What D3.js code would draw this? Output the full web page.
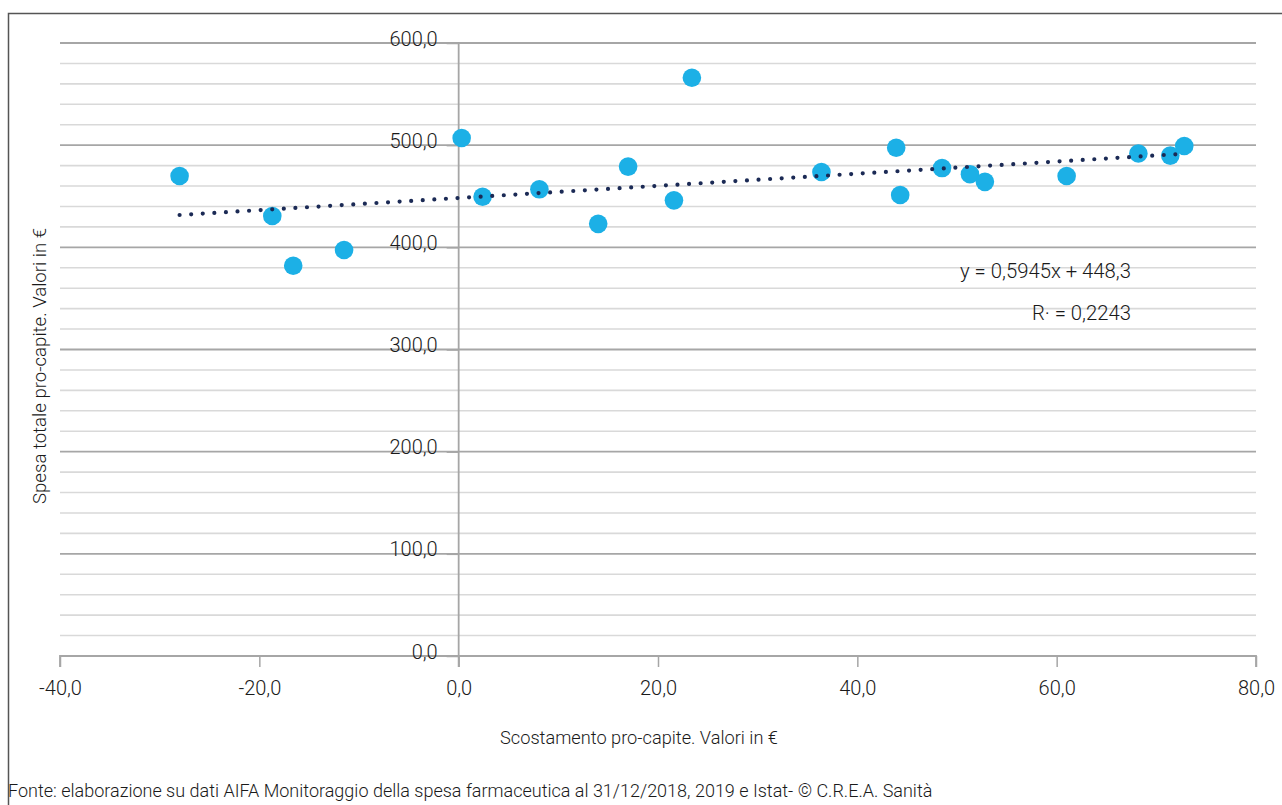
<!DOCTYPE html>
<html><head><meta charset="utf-8">
<script src="https://cdn.jsdelivr.net/npm/d3@7"></script>
<style>
html,body{margin:0;padding:0;background:#fff;}
svg{display:block;}
text{font-family:"Roboto","Noto Sans",sans-serif;font-weight:300;fill:#1a1a1a;}
</style></head><body>
<svg id="c" width="1282" height="805"></svg>
<script>
const xValues = [-28.0,-18.7,-16.6,-11.5,0.3,2.4,8.1,14.0,17.0,21.6,23.4,36.4,43.9,44.3,48.5,51.3,52.8,61.0,68.2,71.4,72.8];
const yValues = [469.8,430.7,382.0,397.4,507.0,449.5,456.8,423.0,479.0,446.0,566.0,473.7,497.5,451.2,477.6,471.6,464.1,469.8,491.8,489.8,499.2];
const xTicks = [-40,-20,0,20,40,60,80];
const yTicksMajor = [0,100,200,300,400,500,600];
const yTicksMinor = [20,40,60,80,120,140,160,180,220,240,260,280,320,340,360,380,420,440,460,480,520,540,560,580];
const trendSlope = 0.5945, trendIntercept = 448.3;
const eqLabel = "y = 0,5945x + 448,3";
const r2Label = "R\u00B7 = 0,2243";
const xTitle = "Scostamento pro-capite. Valori in \u20AC";
const yTitle = "Spesa totale pro-capite. Valori in \u20AC";
const source = "Fonte: elaborazione su dati AIFA Monitoraggio della spesa farmaceutica al 31/12/2018, 2019 e Istat- \u00A9 C.R.E.A. Sanit\u00E0";

const fmt = v => d3.format(".1f")(v).replace(".", ",").replace("\u2212","-");
const svg = d3.select("#c");
const x = d3.scaleLinear().domain([-40,80]).range([60,1256]);
const y = d3.scaleLinear().domain([0,600]).range([656,43]);

// frame
svg.append("path").attr("d","M8.5,805 L8.5,13.5 L1282,13.5").attr("fill","none").attr("stroke","#555").attr("stroke-width",1.5);

// minor gridlines
svg.append("g").selectAll("line").data(yTicksMinor).join("line")
  .attr("x1",x(-40)).attr("x2",x(80)).attr("y1",d=>y(d)).attr("y2",d=>y(d))
  .attr("stroke","#d9d9d9").attr("stroke-width",1.6);
// major gridlines
svg.append("g").selectAll("line").data(yTicksMajor.filter(d=>d>0)).join("line")
  .attr("x1",x(-40)).attr("x2",x(80)).attr("y1",d=>y(d)).attr("y2",d=>y(d))
  .attr("stroke","#a6a6a6").attr("stroke-width",1.8);

// x axis
const xAxis = d3.axisBottom(x).tickValues(xTicks).tickFormat(fmt).tickSize(11).tickPadding(14);
const gx = svg.append("g").attr("transform",`translate(0,${y(0)})`).call(xAxis);
gx.select(".domain").attr("stroke","#a6a6a6").attr("stroke-width",1.8).attr("d",`M${x(-40)},11V0H${x(80)}V11`);
gx.selectAll(".tick line").attr("stroke","#a6a6a6").attr("stroke-width",1.5);
gx.selectAll("text").style("font-size","20px").attr("fill","#1a1a1a").attr("font-family",null);

// y axis at x=0
const yAxis = d3.axisLeft(y).tickValues(yTicksMajor).tickFormat(fmt).tickSize(12).tickPadding(9);
const gy = svg.append("g").attr("transform",`translate(${x(0)},0)`).call(yAxis);
gy.select(".domain").attr("stroke","#a6a6a6").attr("stroke-width",1.8).attr("d",`M0,${y(0)+11}V${y(600)}`);
gy.selectAll(".tick line").attr("stroke","#a6a6a6").attr("stroke-width",1.5);
gy.selectAll("text").style("font-size","20px").attr("fill","#1a1a1a").attr("dy","0.1em").attr("font-family",null);

// points
svg.append("g").selectAll("circle").data(xValues.map((v,i)=>[v,yValues[i]])).join("circle")
  .attr("cx",d=>x(d[0])).attr("cy",d=>y(d[1])).attr("r",9.3).attr("fill","#1cb0e6");

// trendline
const xmin = d3.min(xValues), xmax = d3.max(xValues);
svg.append("line")
  .attr("x1",x(xmin)).attr("y1",y(trendSlope*xmin+trendIntercept))
  .attr("x2",x(xmax)).attr("y2",y(trendSlope*xmax+trendIntercept))
  .attr("stroke","#1b2a55").attr("stroke-width",4.2).attr("stroke-linecap","round")
  .attr("stroke-dasharray","0 11.6");

// labels
svg.append("text").attr("x",1131).attr("y",278).attr("text-anchor","end").style("font-size","20.3px").text(eqLabel);
svg.append("text").attr("x",1131).attr("y",320).attr("text-anchor","end").style("font-size","20.3px").text(r2Label);

svg.append("text").attr("x",639).attr("y",744).attr("text-anchor","middle").style("font-size","18.2px").text(xTitle);
svg.append("text").attr("transform","translate(46,366) rotate(-90)").attr("text-anchor","middle").style("font-size","18.6px").text(yTitle);
svg.append("text").attr("x",8).attr("y",797).style("font-size","18px").text(source);
</script></body></html>
